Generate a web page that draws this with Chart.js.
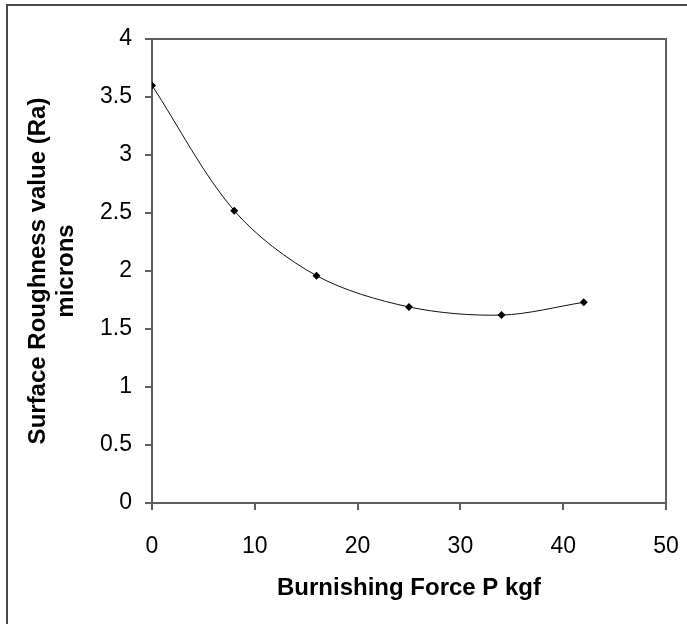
<!DOCTYPE html>
<html>
<head>
<meta charset="utf-8">
<script src="https://cdn.jsdelivr.net/npm/chart.js@4.4.1/dist/chart.umd.min.js"></script>
<style>
  body { margin: 0; background: #fff; }
  canvas { display: block; }
</style>
</head>
<body>
<canvas id="chart" width="687" height="624"></canvas>
<script>
// burnishing force (kgf) against surface roughness Ra (microns)
var forces = [0, 8, 16, 25, 34, 42];
var roughness = [3.6, 2.52, 1.96, 1.69, 1.62, 1.73];
var xTitle = "Burnishing Force P kgf";
var yTitle = ["Surface Roughness value (Ra)", "microns"];

var axisColor = "#5e5e5e";
var tickFont = { family: "Liberation Sans, Arial, sans-serif", size: 23 };
var titleFont = { family: "Liberation Sans, Arial, sans-serif", size: 24, weight: "bold", lineHeight: 1.1667 };

// white page with the thin frame along the top and left edges
var framePlugin = {
  id: "frame",
  beforeDraw: function (chart) {
    var ctx = chart.ctx;
    ctx.save();
    ctx.fillStyle = "#fff";
    ctx.fillRect(0, 0, chart.width, chart.height);
    ctx.strokeStyle = "#4a4a4a";
    ctx.lineWidth = 2;
    ctx.beginPath();
    ctx.moveTo(7, chart.height);
    ctx.lineTo(7, 5);
    ctx.lineTo(chart.width, 5);
    ctx.stroke();
    ctx.restore();
  },
  // box around the plot area (top and right sides)
  afterDatasetsDraw: function (chart) {
    var a = chart.chartArea;
    var ctx = chart.ctx;
    ctx.save();
    ctx.strokeStyle = axisColor;
    ctx.lineWidth = 2;
    ctx.beginPath();
    ctx.moveTo(a.left, a.top);
    ctx.lineTo(a.right, a.top);
    ctx.lineTo(a.right, a.bottom);
    ctx.stroke();
    ctx.restore();
  }
};

function plainNumber(value) {
  return String(value);
}

function createChart() {
  var points = forces.map(function (f, i) {
    return { x: f, y: roughness[i] };
  });

  var myChart = new Chart(document.getElementById("chart"), {
    type: "scatter",
    data: {
      datasets: [
        {
          data: points,
          showLine: true,
          tension: 0.32,
          borderColor: "#111",
          borderWidth: 1,
          backgroundColor: "#000",
          pointStyle: "rectRot",
          pointRadius: 4,
          pointBorderWidth: 0,
        },
      ],
    },
    options: {
      responsive: false,
      animation: false,
      events: [],
      layout: { padding: { top: 39, right: 21, left: 0, bottom: 0 } },
      plugins: {
        legend: { display: false },
        tooltip: { enabled: false },
      },
      scales: {
        x: {
          type: "linear",
          min: 0,
          max: 50,
          // fixed axis height, no extra room for the end labels
          afterFit: function (scale) {
            scale.height = 121;
            scale.paddingLeft = 0;
            scale.paddingRight = 0;
          },
          ticks: {
            stepSize: 10,
            padding: 23,
            color: "#000",
            font: tickFont,
            callback: plainNumber,
          },
          grid: {
            drawOnChartArea: false,
            drawTicks: true,
            tickLength: 7,
            color: axisColor,
            lineWidth: 2,
          },
          border: { display: true, color: axisColor, width: 2 },
          title: {
            display: true,
            text: xTitle,
            color: "#000",
            padding: { top: 0, bottom: 22 },
            font: titleFont,
          },
        },
        y: {
          min: 0,
          max: 4,
          afterFit: function (scale) {
            scale.width = 152;
            scale.paddingTop = 0;
            scale.paddingBottom = 0;
          },
          ticks: {
            stepSize: 0.5,
            padding: 13,
            color: "#000",
            font: tickFont,
            callback: plainNumber,
          },
          grid: {
            drawOnChartArea: false,
            drawTicks: true,
            tickLength: 7,
            color: axisColor,
            lineWidth: 2,
          },
          border: { display: true, color: axisColor, width: 2 },
          title: {
            display: true,
            text: yTitle,
            color: "#000",
            padding: { top: 24, bottom: 0 },
            font: titleFont,
          },
        },
      },
    },
    plugins: [framePlugin],
  });
}

createChart();
</script>
</body>
</html>
